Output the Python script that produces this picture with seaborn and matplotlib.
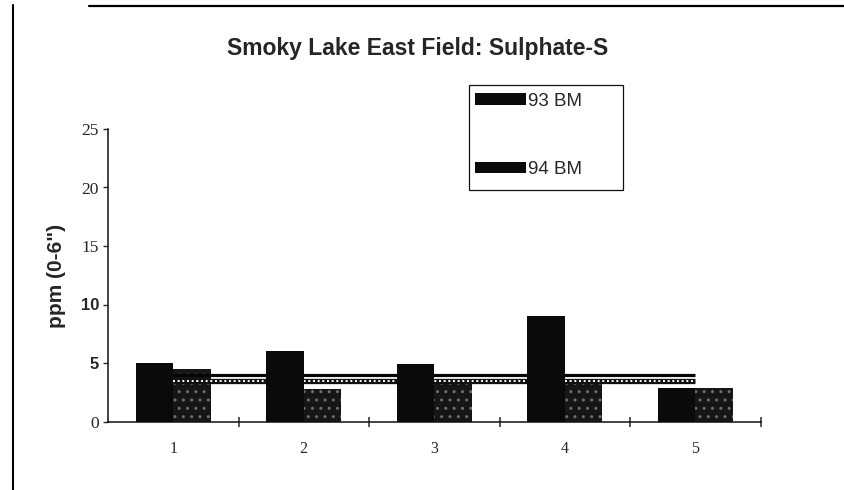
import matplotlib
matplotlib.use("Agg")
import matplotlib.pyplot as plt
import matplotlib.patches as mpatches
from matplotlib.lines import Line2D
import seaborn as sns
import pandas as pd

# ---- data ----
sites = ["1", "2", "3", "4", "5"]
bm93 = [5.0, 6.0, 4.9, 9.0, 2.9]
bm94 = [4.5, 2.8, 3.4, 3.4, 2.9]
series_names = ["93 BM", "94 BM"]
line_solid = [4.0, 4.0, 4.0, 4.0, 4.0]
line_dotted = [3.45, 3.45, 3.45, 3.45, 3.45]
yticks = [0, 5, 10, 15, 20, 25]
title = "Smoky Lake East Field: Sulphate-S"
ylabel = 'ppm (0-6")'

df = pd.DataFrame({
    "site": sites * 2,
    "ppm": bm93 + bm94,
    "series": [series_names[0]] * len(sites) + [series_names[1]] * len(sites),
})

sns.set_style("ticks")
plt.rcParams["font.family"] = ["Liberation Sans", "DejaVu Sans"]
plt.rcParams["hatch.linewidth"] = 1.0

W, H = 844, 490
fig = plt.figure(figsize=(W / 100, H / 100), dpi=100)
ax_l, ax_r, ax_b, ax_t = 108, 760.5, 421.5, 129
ax = fig.add_axes([ax_l / W, 1 - ax_b / H, (ax_r - ax_l) / W, (ax_b - ax_t) / H])

dark = "#0a0a0a"
mid = "#161616"
sns.barplot(data=df, x="site", y="ppm", hue="series", order=sites,
            hue_order=series_names, palette={series_names[0]: dark, series_names[1]: mid},
            width=0.575, gap=0, saturation=1, errorbar=None, legend=False, ax=ax)

for bar in ax.containers[0]:
    bar.set_zorder(3)
    bar.set_linewidth(0)
for bar in ax.containers[1]:
    bar.set_zorder(2)
    bar.set_hatch("..")
    bar.set_edgecolor("#6e6e6e")
    bar.set_linewidth(0)

xs = list(range(len(sites)))
ax.plot(xs, line_solid, color="#050505", lw=2.3, zorder=2.5, solid_capstyle="butt")
ax.plot(xs, line_dotted, color="#111111", lw=3.8, zorder=2.6, solid_capstyle="butt")
ax.plot(xs, line_dotted, color="white", lw=1.4, ls=(0, (1.0, 1.4)), zorder=2.7)

ax.set_xlim(-0.5, 4.5)
ax.set_ylim(0, 25)
sns.despine(ax=ax)
for s in ("left", "bottom"):
    ax.spines[s].set_linewidth(1.1)
    ax.spines[s].set_color("#111111")

# x: crossing ticks between categories, labels at category centres
ax.set_xticks([0.5, 1.5, 2.5, 3.5, 4.5])
ax.set_xticklabels([])
ax.tick_params(axis="x", which="major", direction="inout", length=7, width=1.1)
ax.set_xticks(xs, minor=True)
ax.set_xticklabels(sites, minor=True, family=["Liberation Serif", "DejaVu Serif"], fontsize=11.5)
ax.tick_params(axis="x", which="minor", length=0, pad=14)
ax.set_xlabel("")

ax.set_yticks(yticks)
ylabs = ax.set_yticklabels([str(v) for v in yticks])
for v, t in zip(yticks, ylabs):
    if v in (5, 10):
        t.set_family(["Liberation Sans", "DejaVu Sans"])
        t.set_fontweight("bold")
        t.set_fontsize(12)
    else:
        t.set_family(["Liberation Serif", "DejaVu Serif"])
        t.set_fontsize(12.5)
ax.tick_params(axis="y", direction="out", length=3.5, width=1.0, pad=3)

ax.set_ylabel(ylabel, fontsize=15, fontweight="bold")
ax.yaxis.set_label_coords((66 - ax_l) / (ax_r - ax_l), (ax_b - 276) / (ax_b - ax_t))

fig.text(418 / W, 1 - 48 / H, title, ha="center", va="center",
         fontsize=16.5, fontweight="bold")

# legend
handles = [mpatches.Patch(facecolor=dark, edgecolor="none"),
           mpatches.Patch(facecolor=dark, edgecolor="none")]
fig.legend(handles, series_names, loc="upper left",
           bbox_to_anchor=(470 / W, 1 - 88 / H), frameon=False, fontsize=13.5,
           handlelength=2.75, handleheight=0.55, handletextpad=0.12,
           labelspacing=2.75, borderpad=0.25, borderaxespad=0)
fig.add_artist(mpatches.Rectangle((469 / W, 1 - 190 / H), (623 - 469) / W, (190 - 85) / H,
                                  transform=fig.transFigure, fill=False,
                                  edgecolor="#111111", lw=0.9))

# page borders from the scanned page
fig.add_artist(Line2D([89 / W, 1.0], [1 - 6.5 / H, 1 - 6.5 / H],
                      transform=fig.transFigure, color="black", lw=1.6))
fig.add_artist(Line2D([13 / W, 13 / W], [1 - 5 / H, 0.0],
                      transform=fig.transFigure, color="black", lw=1.5))

fig.savefig("out.png", dpi=100)
